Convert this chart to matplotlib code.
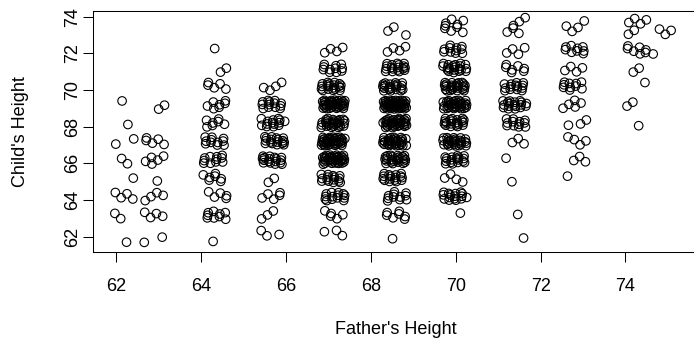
import numpy as np
import matplotlib
matplotlib.use("Agg")
import matplotlib.pyplot as plt

# child height classes (Galton), lowest / highest are the open "below"/"above" classes
child_levels = [61.7, 62.2, 63.2, 64.2, 65.2, 66.2, 67.2, 68.2, 69.2, 70.2, 71.2, 72.2, 73.2, 73.7]
# father height columns
father_levels = [62.24, 62.9, 64.32, 65.69, 67.11, 68.56, 69.98, 71.39, 72.8, 74.22, 74.93]

# number of children in each child class, one list per father column
n_62_2 = [1, 0, 2, 4, 1, 2, 2, 1, 1, 0, 0, 0, 0, 0]
n_62_9 = [1, 1, 4, 4, 1, 5, 5, 0, 2, 0, 0, 0, 0, 0]
n_64_3 = [1, 0, 9, 5, 7, 11, 11, 7, 7, 5, 2, 1, 0, 0]
n_65_7 = [0, 3, 3, 5, 2, 17, 17, 14, 13, 4, 0, 0, 0, 0]
n_67_1 = [0, 3, 5, 14, 15, 36, 38, 28, 38, 19, 11, 4, 0, 0]
n_68_6 = [1, 0, 7, 11, 16, 25, 31, 34, 48, 21, 18, 4, 3, 0]
n_70_0 = [0, 0, 1, 16, 4, 17, 27, 20, 33, 25, 20, 11, 4, 5]
n_71_4 = [1, 0, 1, 0, 1, 1, 3, 12, 18, 14, 7, 4, 3, 3]
n_72_8 = [0, 0, 0, 0, 1, 3, 4, 3, 5, 10, 4, 9, 2, 2]
n_74_2 = [0, 0, 0, 0, 0, 0, 0, 1, 2, 1, 2, 7, 2, 4]
n_74_9 = [0, 0, 0, 0, 0, 0, 0, 0, 0, 0, 0, 1, 3, 0]

counts = [n_62_2, n_62_9, n_64_3, n_65_7, n_67_1, n_68_6,
          n_70_0, n_71_4, n_72_8, n_74_2, n_74_9]

ticks = [62, 64, 66, 68, 70, 72, 74]

# expand the table into one point per child
xs, ys = [], []
for fx, row in zip(father_levels, counts):
    for cy, n in zip(child_levels, row):
        xs += [fx] * n
        ys += [cy] * n
xs = np.array(xs)
ys = np.array(ys)

# visual jitter like R's jitter(): a fixed quasi-random (R2) spread, no RNG
k = np.arange(len(xs))
u = (0.5 + k * 0.7548776662) % 1.0
v = (0.5 + k * 0.5698402910) % 1.0
xj = xs + (2 * u - 1) * 0.28
yj = ys + (2 * v - 1) * 0.25

plt.rcParams['font.family'] = ['Liberation Sans', 'DejaVu Sans']

fig = plt.figure(figsize=(6.94, 3.38), dpi=100)
ax = fig.add_axes([93 / 694, 86.3 / 338, 605.4 / 694, 240.7 / 338])

ax.scatter(xj, yj, s=38, facecolors='none', edgecolors='black', linewidths=0.8)

ax.set_xlim(61.45, 75.72)
ax.set_ylim(61.18, 74.31)
ax.set_xticks(ticks)
ax.set_yticks(ticks)
ax.set_xticklabels([str(t) for t in ticks])
ax.set_yticklabels([str(t) for t in ticks], rotation=90, va='center')

ax.tick_params(axis='x', direction='out', length=7.4, width=0.75, pad=11.5, labelsize=13)
ax.tick_params(axis='y', direction='out', length=7.4, width=0.75, pad=1.5, labelsize=13)
for s in ax.spines.values():
    s.set_linewidth(0.75)

fig.text(395.7 / 694, (338 - 334.5) / 338, "Father's Height", ha='center', va='baseline', fontsize=13)
fig.text(20.2 / 694, 1 - 131.3 / 338, "Child's Height", ha='center', va='center', rotation=90, fontsize=13)

fig.savefig("out.png", dpi=100)
